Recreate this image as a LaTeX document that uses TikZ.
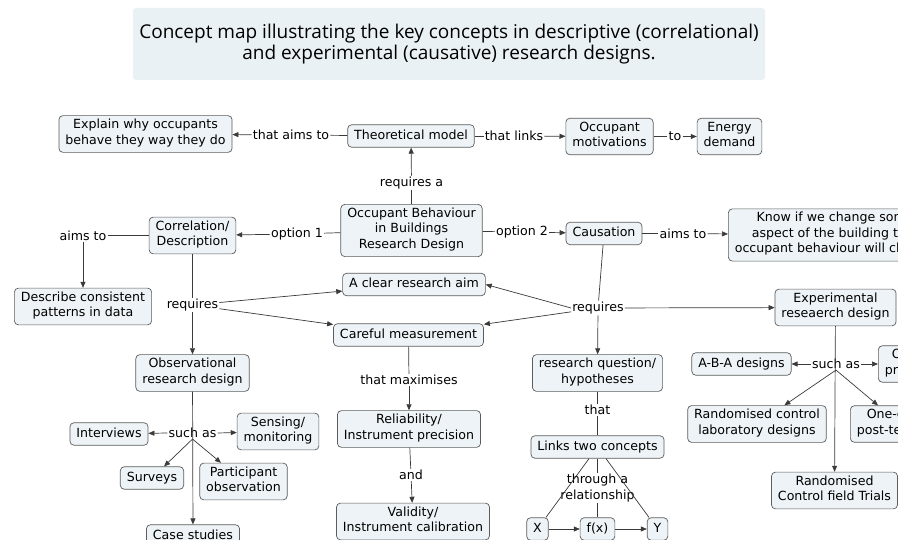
\documentclass[tikz,border=0pt]{standalone}
\usepackage{fontspec}
\setmainfont{DejaVu Sans}
\newfontfamily\titlefont{Open Sans}
\usetikzlibrary{arrows.meta}
\definecolor{nodefill}{HTML}{EDF3F6}
\definecolor{titlefill}{HTML}{EAF1F4}
\definecolor{edgecol}{HTML}{3A3A3A}
\definecolor{bordercol}{HTML}{5C5C5C}
\begin{document}
\begin{tikzpicture}[x=1pt,y=-1pt,
  concept/.style={draw=bordercol, line width=0.7pt, fill=nodefill,
    rounded corners=4pt, align=center, inner xsep=6.5pt, inner ysep=3.5pt,
    font=\fontsize{12.6}{15.5}\selectfont,
    execute at begin node=\strut, execute at end node=\strut},
  link/.style={font=\fontsize{12.6}{15.5}\selectfont, inner sep=1pt, align=center},
  ln/.style={draw=edgecol, line width=0.7pt},
  arr/.style={ln, -{Triangle[length=6pt,width=5pt]}}]
\useasboundingbox (0,0) rectangle (898,540);
\clip (0,0) rectangle (898,540);
\fill[white] (0,0) rectangle (898,540);

% heading
\fill[titlefill, rounded corners=3pt] (133,8) rectangle (765,80);
\node[font=\titlefont\fontsize{19}{20.5}\selectfont, align=center] (title) at (449,44)
  {Concept map illustrating the key concepts in descriptive (correlational)\\
   and experimental (causative) research designs.};

% concepts
\node[concept] (expl) at (145.5,134) {Explain why occupants\\behave they way they do};
\node[concept] (theo) at (411,136) {Theoretical model};
\node[concept] (motiv) at (609.5,136.5) {Occupant\\motivations};
\node[concept] (energy) at (729.5,136.5) {Energy\\demand};
\node[concept] (obrd) at (411.5,230.5) {Occupant Behaviour\\in Buildings\\Research Design};
\node[concept] (corr) at (192.5,235.5) {Correlation/\\Description};
\node[concept] (caus) at (604,233.5) {Causation};
\node[concept, anchor=west] (know) at (728,235)
  {Know if we change some\\aspect of the building that\\occupant behaviour will change};
\node[concept] (desc) at (83,306.5) {Describe consistent\\patterns in data};
\node[concept] (aim) at (414,284.5) {A clear research aim};
\node[concept] (meas) at (408.5,335) {Careful measurement};
\node[concept] (obs) at (192.5,373) {Observational\\research design};
\node[concept] (rq) at (597.5,373) {research question/\\hypotheses};
\node[concept] (exp) at (835.5,307.5) {Experimental\\reseaerch design};
\node[concept] (aba) at (741.5,364) {A-B-A designs};
\node[concept, anchor=west] (onepre) at (878,364) {One-group\\pre-post test};
\node[concept] (rclab) at (757,424) {Randomised control\\laboratory designs};
\node[concept, anchor=west] (onepost) at (850,424) {One-group\\post-test only};
\node[concept] (rct) at (834.5,490.5) {Randomised\\Control field Trials};
\node[concept] (intv) at (109,434) {Interviews};
\node[concept] (sens) at (278,431.5) {Sensing/\\monitoring};
\node[concept] (surv) at (152,478) {Surveys};
\node[concept] (part) at (243.5,481.5) {Participant\\observation};
\node[concept] (case) at (193,536) {Case studies};
\node[concept] (rel) at (409,429) {Reliability/\\Instrument precision};
\node[concept] (val) at (413,521.5) {Validity/\\Instrument calibration};
\node[concept] (links) at (597.5,447) {Links two concepts};
\node[concept] (X) at (537.5,529) {X};
\node[concept] (fx) at (597.5,529) {f(x)};
\node[concept] (Y) at (657.5,529) {Y};

% linking phrases
\node[link] (laims1) at (291,135) {that aims to};
\node[link] (llinks) at (514,136) {that links};
\node[link] (lto) at (675,136.5) {to};
\node[link] (lreqa) at (411.5,183) {requires a};
\node[link] (lopt1) at (297,234) {option 1};
\node[link] (lopt2) at (522,232) {option 2};
\node[link] (laims2) at (683,233.5) {aims to};
\node[link] (laims3) at (83,235.5) {aims to};
\node[link] (lreq1) at (192.5,305) {requires};
\node[link] (lreq2) at (598,308) {requires};
\node[link] (lmax) at (409,380) {that maximises};
\node[link] (land) at (411,475) {and};
\node[link] (lsuch1) at (192.5,433) {such as};
\node[link] (lthat) at (597.5,410) {that};
\node[link] (lthr) at (597.5,488) {through a\\relationship};
\node[link] (lsuch2) at (836,364) {such as};

% connections
\draw[ln] (theo) -- (laims1); \draw[arr] (laims1) -- (expl);
\draw[ln] (theo) -- (llinks); \draw[arr] (llinks) -- (motiv);
\draw[ln] (motiv) -- (lto); \draw[arr] (lto) -- (energy);
\draw[ln] (obrd) -- (lreqa); \draw[arr] (lreqa) -- (theo);
\draw[ln] (obrd) -- (lopt1); \draw[arr] (lopt1) -- (corr);
\draw[ln] (obrd) -- (lopt2); \draw[arr] (lopt2) -- (caus);
\draw[ln] (caus) -- (laims2); \draw[arr] (laims2) -- (know);
\draw[ln] (corr) -- (laims3); \draw[arr] (laims3) -- (desc);

\draw[ln] (corr) -- (lreq1); \draw[arr] (lreq1) -- (obs);
\draw[arr] (lreq1) -- (aim);
\draw[arr] (lreq1) -- (meas);

\draw[ln] (caus) -- (lreq2); \draw[arr] (lreq2) -- (rq);
\draw[arr] (lreq2.west) -- (aim.east);
\draw[arr] (lreq2) -- (meas);
\draw[arr] (lreq2) -- (exp);

\draw[ln] (meas) -- (lmax); \draw[arr] (lmax) -- (rel);
\draw[ln] (rel) -- (land); \draw[arr] (land) -- (val);

\draw[arr] (obs) -- (case);
\draw[arr] (lsuch1.west) -- (intv);
\draw[arr] (lsuch1.east) -- (sens);
\draw[arr] (lsuch1.south) -- (surv);
\draw[arr] (lsuch1.south) -- (part);

\draw[arr] (exp) -- (rct);
\draw[arr] (lsuch2.west) -- (aba);
\draw[arr] (lsuch2.east) -- (onepre);
\draw[arr] (lsuch2.south) -- (rclab);
\draw[arr] (lsuch2.south) -- (onepost);

\draw[ln] (rq) -- (lthat); \draw[ln] (lthat) -- (links);
\draw[ln] (links) -- (lthr); \draw[ln] (lthr) -- (fx);
\draw[ln] (links) -- (X);
\draw[ln] (links) -- (Y);
\draw[arr] (X) -- (fx);
\draw[arr] (fx) -- (Y);
\end{tikzpicture}
\end{document}
